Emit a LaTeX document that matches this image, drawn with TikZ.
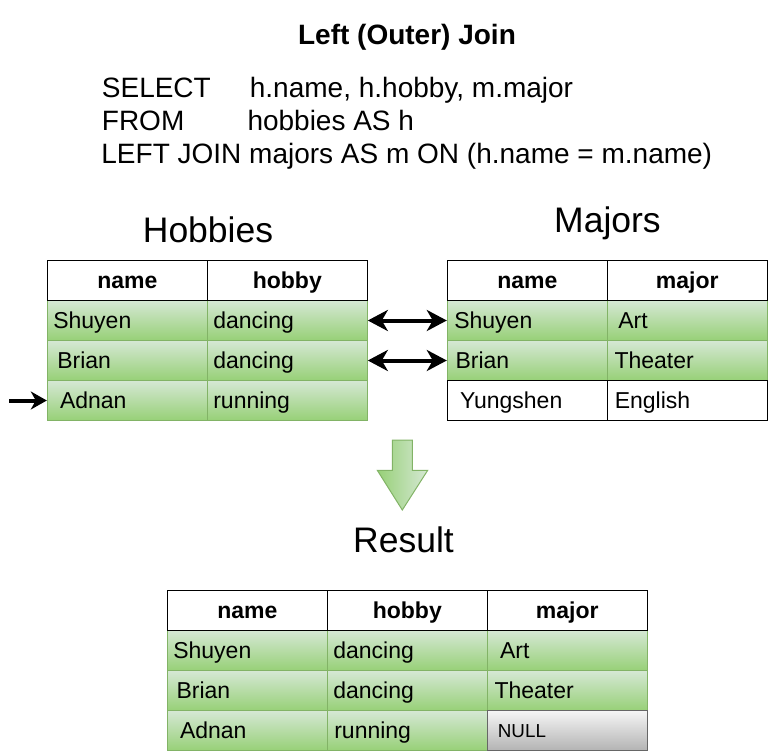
\documentclass[tikz,border=0pt]{standalone}
\usepackage{fontspec}
\setmainfont{Liberation Sans}
\usetikzlibrary{arrows.meta}
\definecolor{gTop}{HTML}{D5E8D4}
\definecolor{gBot}{HTML}{97D077}
\definecolor{gStroke}{HTML}{82B366}
\definecolor{nTop}{HTML}{F5F5F5}
\definecolor{nBot}{HTML}{B3B3B3}
\definecolor{nStroke}{HTML}{666666}
\tikzset{
  cell/.style={rectangle, minimum width=160pt, minimum height=40pt, inner xsep=6pt, inner ysep=0pt,
    text width=148pt, align=left, text height=16.5pt, text depth=0pt,
    font=\fontsize{23}{23}\selectfont, line width=1pt},
  hdr/.style={cell, draw=black, fill=white, align=center, font=\bfseries\fontsize{23}{23}\selectfont},
  gcell/.style={cell, draw=gStroke, top color=gTop, bottom color=gBot},
  wcell/.style={cell, draw=black, fill=white},
  ncell/.style={cell, draw=nStroke, top color=nTop, bottom color=nBot, text height=13.5pt,
    font=\fontsize{18.8}{18.8}\selectfont},
  sqltext/.style={anchor=base west, inner sep=0pt, font=\fontsize{28}{28}\selectfont},
  tabtitle/.style={anchor=base, inner sep=0pt, font=\fontsize{35.5}{35.5}\selectfont},
  bigtip/.tip={Stealth[length=20pt,width=21pt,inset=6pt]},
  smalltip/.tip={Stealth[length=16pt,width=18pt,inset=5pt]},
  joinarrow/.style={draw=black, line width=4pt, arrows={bigtip-bigtip}},
  pointarrow/.style={draw=black, line width=4pt, arrows={-smalltip}},
  downarrow/.style={left color=gBot, right color=gTop, draw=gStroke, line width=1pt}
}
\begin{document}
\begin{tikzpicture}[x=1pt,y=-1pt]
\useasboundingbox (0,0) rectangle (768,751);

% title and query
\node[anchor=base, inner sep=0pt, font=\bfseries\fontsize{28}{28}\selectfont] (title) at (407,45) {Left (Outer) Join};
\node[sqltext] (sql1) at (101.7,97.3) {\makebox[148pt][l]{SELECT}h.name, h.hobby, m.major};
\node[sqltext] (sql2) at (101.7,130.7) {\makebox[145.6pt][l]{FROM}hobbies AS h};
\node[sqltext] (sql3) at (101.2,163.5) {LEFT JOIN majors AS m ON (h.name = m.name)};

% table titles
\node[tabtitle] (thob) at (208,242.7) {Hobbies};
\node[tabtitle] (tmaj) at (607.5,232.5) {Majors};
\node[tabtitle] (tres) at (403.5,552.5) {Result};

% Hobbies table
\node[gcell] (h11) at (127.3,320.5) {Shuyen};
\node[gcell] (h12) at (287.3,320.5) {dancing};
\node[gcell] (h21) at (127.3,360.5) {\hspace*{4pt}Brian};
\node[gcell] (h22) at (287.3,360.5) {dancing};
\node[gcell] (h31) at (127.3,400.5) {\hspace*{6.7pt}Adnan};
\node[gcell] (h32) at (287.3,400.5) {running};
\node[hdr] (h01) at (127.3,280.5) {name};
\node[hdr] (h02) at (287.3,280.5) {hobby};

% Majors table
\node[gcell] (m11) at (527.3,320.5) {\hspace*{1pt}Shuyen};
\node[gcell] (m12) at (687.3,320.5) {\hspace*{5pt}Art};
\node[gcell] (m21) at (527.3,360.5) {\hspace*{2.2pt}Brian};
\node[gcell] (m22) at (687.3,360.5) {\hspace*{1.2pt}Theater};
\node[wcell] (m31) at (527.3,400.5) {\hspace*{6.7pt}Yungshen};
\node[wcell] (m32) at (687.3,400.5) {\hspace*{1.5pt}English};
\node[hdr] (m01) at (527.3,280.5) {name};
\node[hdr] (m02) at (687.3,280.5) {major};

% Result table
\node[gcell] (r11) at (247.3,650.7) {Shuyen};
\node[gcell] (r12) at (407.3,650.7) {dancing};
\node[gcell] (r13) at (567.3,650.7) {\hspace*{6.7pt}Art};
\node[gcell] (r21) at (247.3,690.7) {\hspace*{3.2pt}Brian};
\node[gcell] (r22) at (407.3,690.7) {dancing};
\node[gcell] (r23) at (567.3,690.7) {\hspace*{1.2pt}Theater};
\node[gcell] (r31) at (247.3,730.7) {\hspace*{6.7pt}Adnan};
\node[gcell] (r32) at (407.3,730.7) {\hspace*{1pt}running};
\node[ncell] (r33) at (567.3,730.7) {\hspace*{4.6pt}NULL};
\node[hdr] (r01) at (247.3,610.7) {name};
\node[hdr] (r02) at (407.3,610.7) {hobby};
\node[hdr] (r03) at (567.3,610.7) {major};

% connectors
\draw[joinarrow] (h12.east) -- (m11.west);
\draw[joinarrow] (h22.east) -- (m21.west);
\coordinate (ptail) at (9,400.5);
\draw[pointarrow] (ptail) -- (h31.west);

% down arrow
\path[downarrow] (392.3,440) -- (412.3,440) -- (412.3,470.3) -- (427.7,470.3) -- (402.3,510)
  -- (377.3,470.3) -- (392.3,470.3) -- cycle;
\end{tikzpicture}
\end{document}
